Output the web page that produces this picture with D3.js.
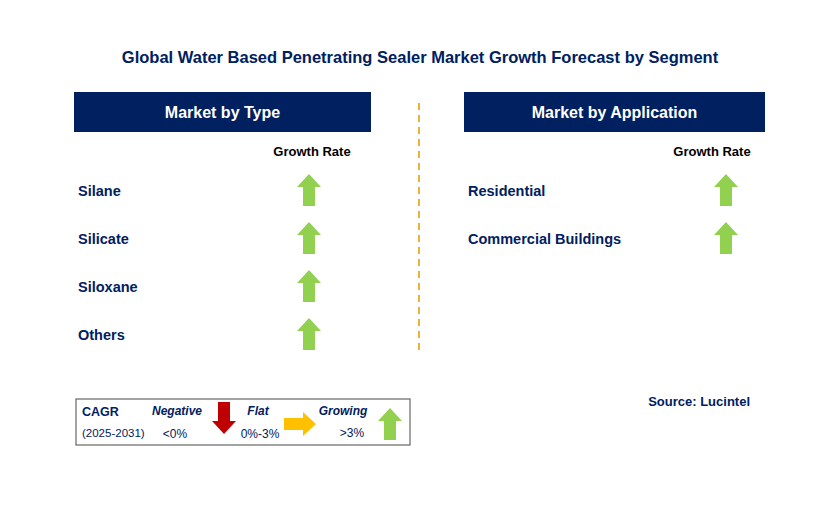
<!DOCTYPE html>
<html><head><meta charset="utf-8">
<script src="https://cdn.jsdelivr.net/npm/d3@7"></script>
<style>body{margin:0;background:#fff}text{font-family:"Liberation Sans",Arial,sans-serif}</style>
</head><body>
<svg id="c" width="829" height="505"></svg>
<script>
const title = "Global Water Based Penetrating Sealer Market Growth Forecast by Segment"
const typeSegments = ["Silane", "Silicate", "Siloxane", "Others"]
const typeTrend = ["up", "up", "up", "up"]
const appSegments = ["Residential", "Commercial Buildings"]
const appTrend = ["up", "up"]

const navy = "#002060", green = "#92d050", red = "#c00000", amber = "#ffc000"
const svg = d3.select("#c")

svg.append("text").attr("x", 420).attr("y", 63).attr("text-anchor", "middle")
  .attr("font-size", 16.5).attr("font-weight", "bold").attr("fill", navy).text(title)

// up arrow centred at (cx, cy); rotate for other directions
function arrow(g, cx, cy, dir, color) {
  const p = "M0,-16 L12,-3 L6,-3 L6,16 L-6,16 L-6,-3 L-12,-3 Z"
  const rot = { up: 0, down: 180, right: 90 }[dir]
  g.append("path").attr("d", p).attr("fill", color)
    .attr("transform", `translate(${cx},${cy}) rotate(${rot})`)
}

const y = d3.scalePoint().domain(d3.range(4)).range([190, 334])

function panel(x0, w, head, segs, trends, arrowX, labelX) {
  svg.append("rect").attr("x", x0).attr("y", 92).attr("width", w).attr("height", 40).attr("fill", navy)
  svg.append("text").attr("x", x0 + w / 2).attr("y", 118).attr("text-anchor", "middle")
    .attr("font-size", 16).attr("font-weight", "bold").attr("fill", "#fff").text(head)
  svg.append("text").attr("x", labelX).attr("y", 156).attr("text-anchor", "middle")
    .attr("font-size", 13).attr("font-weight", "bold").attr("fill", "#000").text("Growth Rate")
  segs.forEach((s, i) => {
    svg.append("text").attr("x", x0 + 4).attr("y", y(i) + 6).attr("font-size", 14.5)
      .attr("font-weight", "bold").attr("fill", navy).text(s)
    arrow(svg, arrowX, y(i), trends[i] === "up" ? "up" : "down", green)
  })
}
panel(74, 297, "Market by Type", typeSegments, typeTrend, 309, 312)
panel(464, 301, "Market by Application", appSegments, appTrend, 726, 712)

svg.append("line").attr("x1", 419).attr("x2", 419).attr("y1", 103).attr("y2", 352)
  .attr("stroke", "#f0b030").attr("stroke-width", 2).attr("stroke-dasharray", "7,5")

svg.append("text").attr("x", 750).attr("y", 406).attr("text-anchor", "end")
  .attr("font-size", 13).attr("font-weight", "bold").attr("fill", navy).text("Source: Lucintel")

// legend
const lg = svg.append("g")
lg.append("rect").attr("x", 76).attr("y", 399).attr("width", 334).attr("height", 46)
  .attr("fill", "#fff").attr("stroke", "#666").attr("stroke-width", 1.2)
const lt = (x, yy, t, opt = {}) => lg.append("text").attr("x", x).attr("y", yy).attr("font-size", opt.s || 12)
  .attr("font-weight", opt.b ? "bold" : "normal").attr("font-style", opt.i ? "italic" : "normal")
  .attr("text-anchor", opt.a || "start").attr("fill", navy).text(t)
lt(82, 416, "CAGR", { b: 1, s: 12.5 })
lt(82, 437, "(2025-2031)", { s: 11.5 })
lt(177, 415, "Negative", { b: 1, i: 1, a: "middle" })
lt(175, 438, "<0%", { a: "middle" })
lt(258, 415, "Flat", { b: 1, i: 1, a: "middle" })
lt(260, 438, "0%-3%", { a: "middle" })
lt(343, 415, "Growing", { b: 1, i: 1, a: "middle" })
lt(352, 437, ">3%", { a: "middle" })
arrow(lg, 224, 418, "down", red)
arrow(lg, 300, 424, "right", amber)
arrow(lg, 390, 424, "up", green)
</script>
</body></html>
